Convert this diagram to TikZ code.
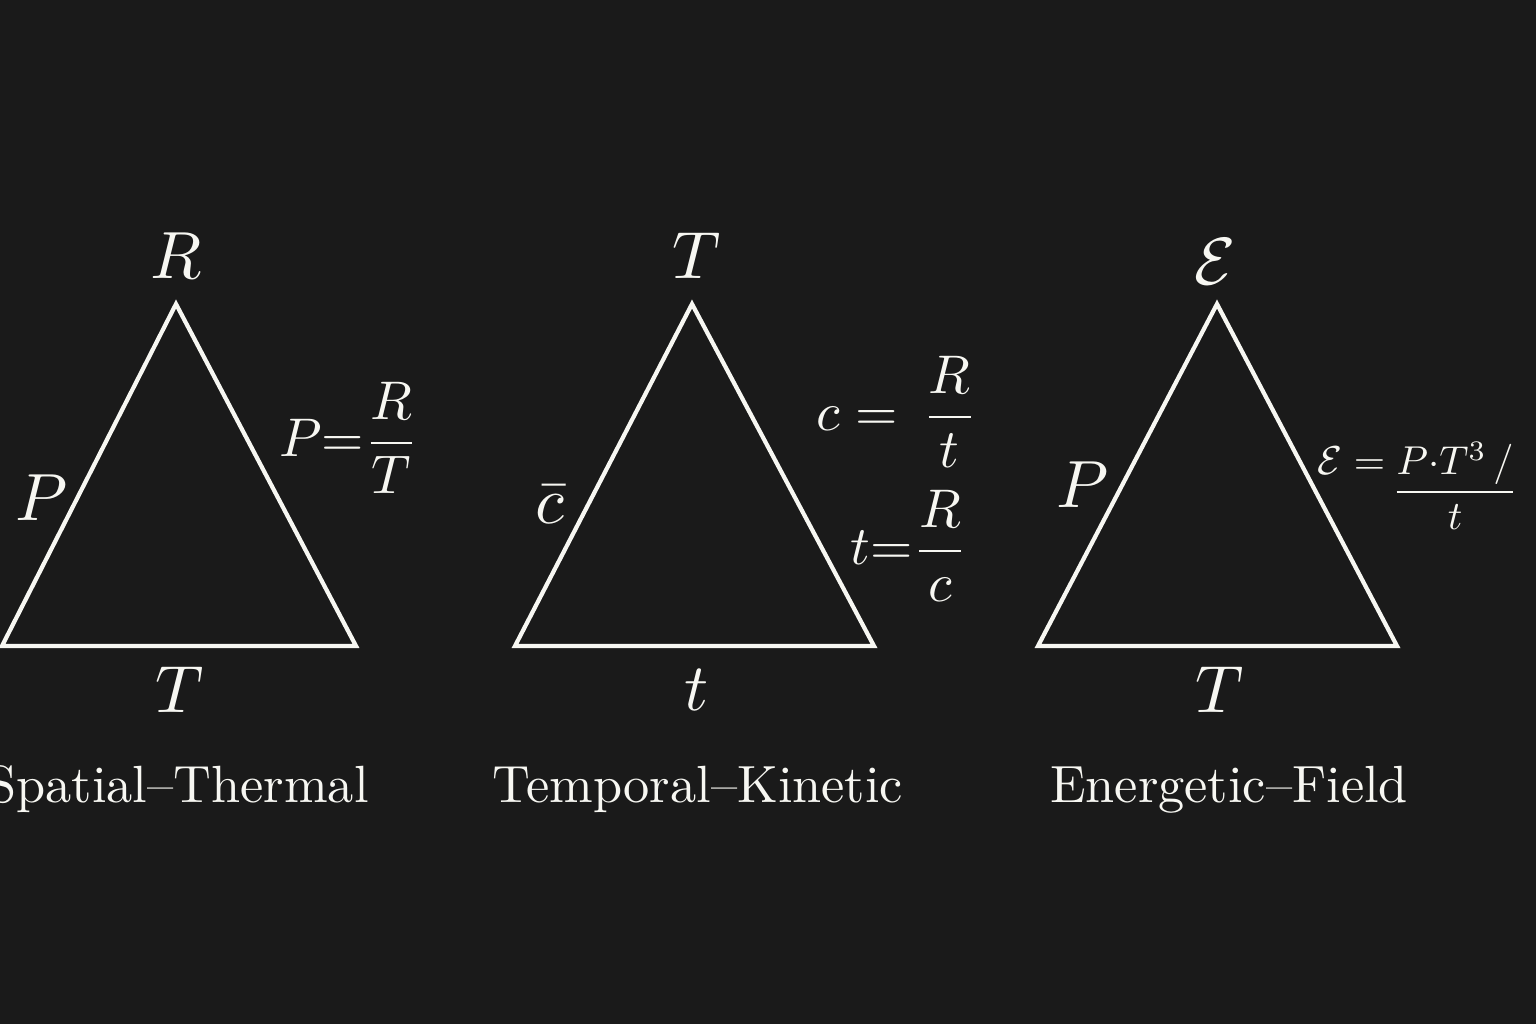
\documentclass[tikz,border=0pt]{standalone}
\usepackage{amsmath}
\usepackage{xcolor}
\usepackage{tikz}
\usetikzlibrary{positioning, calc}

\definecolor{bgdark}{HTML}{1A1A1A}
\definecolor{chalk}{HTML}{F7F7F2}

\tikzset{
  tri/.style={draw=chalk, line width=2.4pt, line join=miter},
  vlabel/.style={text=chalk, inner sep=0pt, scale=3.8},
  formula/.style={text=chalk, inner sep=0pt, scale=3.1},
  caption/.style={text=chalk, inner sep=0pt, scale=2.98}
}

\begin{document}
\begin{tikzpicture}[x=0.02cm, y=-0.02cm]
        \fill[bgdark] (0,0) rectangle (1536,1024);
        \useasboundingbox (0,0) rectangle (1536,1024);

        % the three triangles
        \foreach \n/\l/\a/\r in {st/2/176/356, tk/515/692/874, ef/1038/1217/1397} {
          \coordinate (\n-top) at (\a,304);
          \coordinate (\n-left) at (\l,646);
          \coordinate (\n-right) at (\r,646);
          \draw[tri] (\n-left) -- (\n-top) -- (\n-right) -- cycle;
        }

        % Spatial--Thermal
        \node[vlabel] (st-R) at (176,256) {$R$};
        \node[vlabel] (st-P) at (42,498) {$P$};
        \node[vlabel] (st-T) at (180,690) {$T$};
        \node[formula] (st-eq) at (349,438) {$P{=}\dfrac{R}{T}$};
        \node[caption, anchor=base] (st-cap) at (178,802) {Spatial--Thermal};

        % Temporal--Kinetic
        \node[vlabel] (tk-T) at (697,256) {$T$};
        \node[vlabel] (tk-c) at (550,505) {$\bar{c}$};
        \node[vlabel] (tk-t) at (697,690) {$t$};
        \node[formula] (tk-eq1) at (897,412) {$c=\,\dfrac{R}{t}$};
        \node[formula] (tk-eq2) at (909,546) {$t{=}\dfrac{R}{c}$};
        \node[caption, anchor=base] (tk-cap) at (698,802) {Temporal--Kinetic};

        % Energetic--Field
        \node[vlabel] (ef-E) at (1215,262) {$\mathcal{E}$};
        \node[vlabel] (ef-P) at (1083,485) {$P$};
        \node[vlabel] (ef-T) at (1220,690) {$T$};
        \node[formula, scale=0.74] (ef-eq) at (1418,486)
          {$\raisebox{0.68em}{$\mathcal{E}=$}\,\dfrac{P{\cdot}T^{3}\,/}{t}$};
        \node[caption, anchor=base] (ef-cap) at (1229,802) {Energetic--Field};
      \end{tikzpicture}
\end{document}
